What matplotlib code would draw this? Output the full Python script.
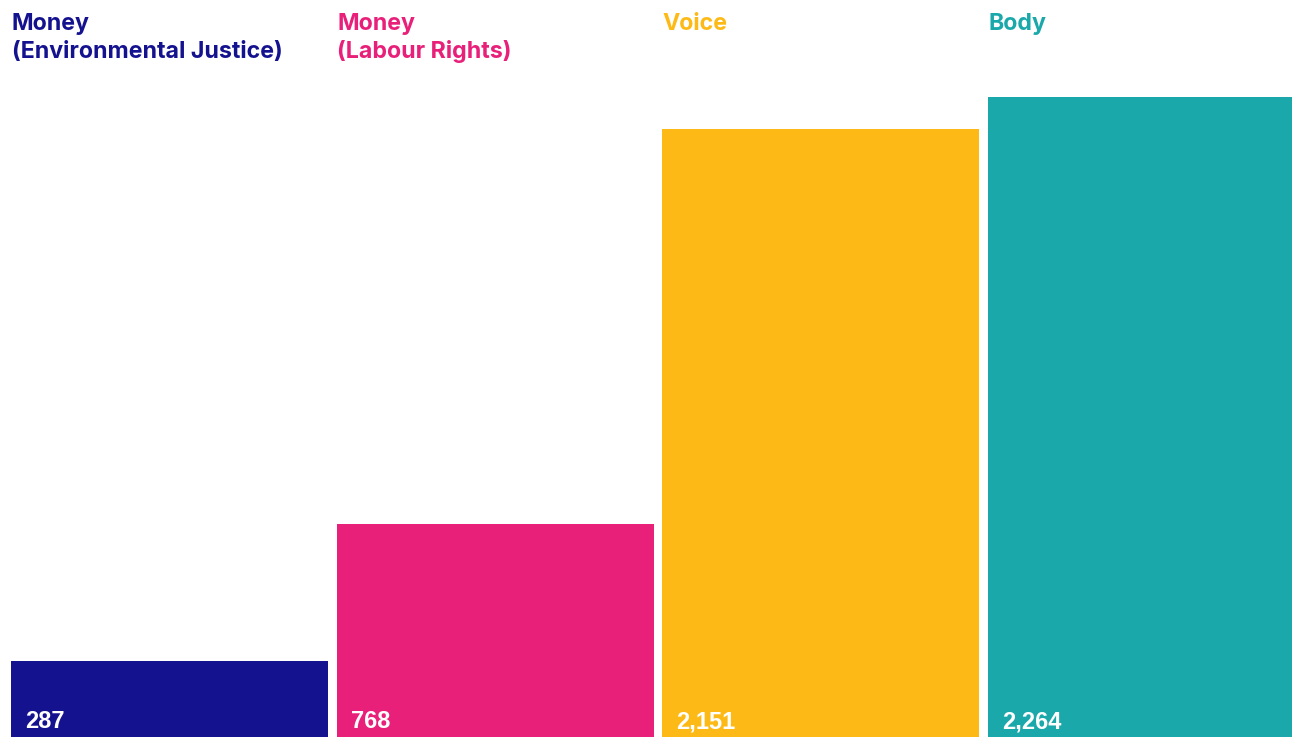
import matplotlib
matplotlib.use("Agg")
import matplotlib.pyplot as plt
from matplotlib.transforms import blended_transform_factory

categories = ["Money\n(Environmental Justice)", "Money\n(Labour Rights)", "Voice", "Body"]
values = [287, 768, 2151, 2264]
colors = ["#14128F", "#E8207A", "#FDBA16", "#1BA8AB"]

W, H = 1292, 737
fig = plt.figure(figsize=(W / 100, H / 100), dpi=100)
ax = fig.add_axes([0, 0, 1, 1])

pitch = 325.7          # px per category
bar_w = 317 / pitch    # bar width in data units
k = 0.2853             # px per value unit
x_left = -bar_w / 2 - 11 / pitch
ax.set_xlim(x_left, x_left + W / pitch)
ax.set_ylim(6 / k, 6 / k + H / k)

xs = list(range(len(values)))
ax.bar(xs, values, width=bar_w, color=colors, align="center", linewidth=0)
ax.axis("off")

trans_lbl = blended_transform_factory(ax.transData, fig.transFigure)
for i, (cat, v, c) in enumerate(zip(categories, values, colors)):
    left = xs[i] - bar_w / 2
    for j, line in enumerate(cat.split("\n")):
        ax.text(left + 0.5 / pitch, 1 - (30 + 28 * j) / H, line, transform=trans_lbl,
                ha="left", va="baseline", fontsize=16.7, fontweight="bold",
                color=c, family="Inter")
    ax.text(left + 14 / pitch, 8.5 / H, f"{v:,}", transform=trans_lbl,
            ha="left", va="baseline", fontsize=17, fontweight="bold",
            color="white", family="Liberation Sans")

fig.savefig("out.png", dpi=100)
